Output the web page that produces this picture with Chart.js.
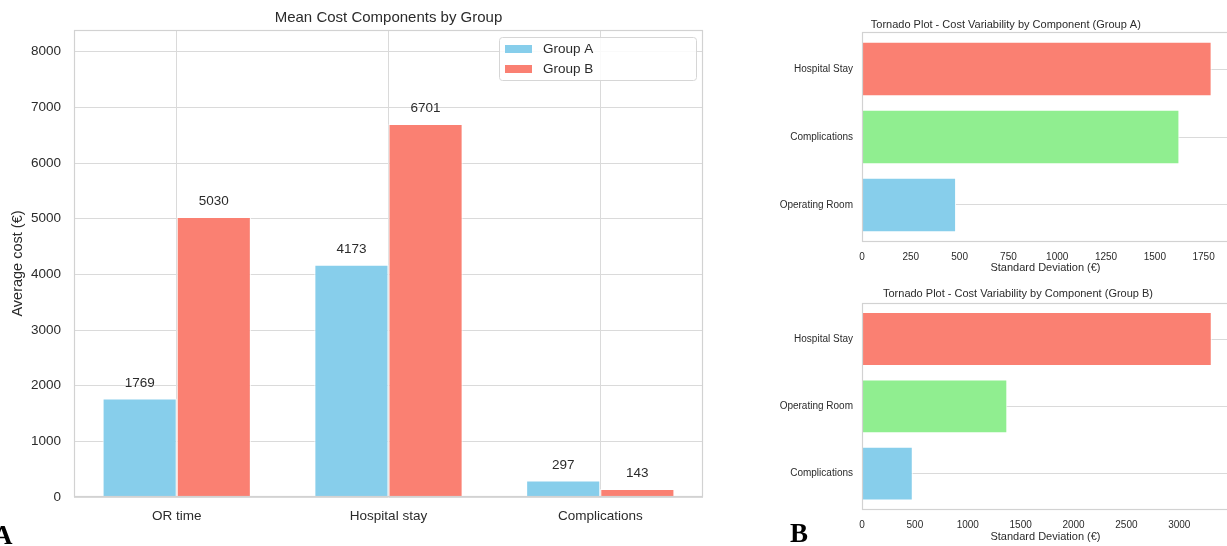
<!DOCTYPE html>
<html>
<head>
<meta charset="utf-8">
<title>Cost components</title>
<script src="https://cdn.jsdelivr.net/npm/chart.js@4.4.1/dist/chart.umd.min.js"></script>
<style>
  html, body { margin: 0; padding: 0; width: 1227px; height: 546px; overflow: hidden; background: #ffffff; }
  canvas { position: absolute; display: block; }
  .tag { position: absolute; font: bold 27px "Liberation Serif", "Times New Roman", serif; line-height: 27px; color: #000; }
</style>
</head>
<body>
<canvas id="meanChart" width="720" height="546" style="left:0;top:0"></canvas>
<canvas id="tornadoA" width="470" height="280" style="left:760px;top:0"></canvas>
<canvas id="tornadoB" width="470" height="266" style="left:760px;top:280px"></canvas>
<div class="tag" style="left:-7px;top:522px">A</div>
<div class="tag" style="left:790px;top:520px">B</div>

<script>
// ---- data ----
const components = ['OR time', 'Hospital stay', 'Complications'];
const groupNames = ['Group A', 'Group B'];
const groupA = [1769, 4173, 297];
const groupB = [5030, 6701, 143];
const costTicks = [0, 1000, 2000, 3000, 4000, 5000, 6000, 7000, 8000];

const tornadoALabels = ['Hospital Stay', 'Complications', 'Operating Room'];
const tornadoAValues = [1791, 1626, 482];
const tornadoATicks = [0, 250, 500, 750, 1000, 1250, 1500, 1750];

const tornadoBLabels = ['Hospital Stay', 'Operating Room', 'Complications'];
const tornadoBValues = [3307, 1374, 480];
const tornadoBTicks = [0, 500, 1000, 1500, 2000, 2500, 3000];

// ---- style ----
const SKY = '#87CEEB';
const SALMON = '#FA8072';
const GREEN = '#90EE90';
const rankColors = [SALMON, GREEN, SKY];
const TEXT = '#2b2b2b';
const GRID = '#dadada';
const FRAME = '#d2d2d2';
const FONT = '"Liberation Sans", Arial, Helvetica, sans-serif';

Chart.defaults.font.family = FONT;
Chart.defaults.color = TEXT;

// box around the plotting area (all four sides)
const frame = {
  id: 'frame',
  afterDatasetsDraw(chart) {
    const { ctx, chartArea: a } = chart;
    ctx.save();
    ctx.strokeStyle = FRAME;
    ctx.lineWidth = 1.2;
    const l = Math.round(a.left) + 0.5, t = Math.round(a.top) + 0.5;
    const r = Math.round(a.right) - 0.5, b = Math.round(a.bottom) - 0.5;
    ctx.strokeRect(l, t, r - l, b - t);
    ctx.restore();
  }
};

// value written above each bar
const valueLabels = {
  id: 'valueLabels',
  afterDatasetsDraw(chart, args, opts) {
    const { ctx } = chart;
    ctx.save();
    ctx.font = `${opts.size}px ${FONT}`;
    ctx.fillStyle = TEXT;
    ctx.textAlign = 'center';
    ctx.textBaseline = 'middle';
    chart.data.datasets.forEach((ds, di) => {
      chart.getDatasetMeta(di).data.forEach((bar, i) => {
        ctx.fillText(String(ds.data[i].y), bar.x, bar.y - opts.offset);
      });
    });
    ctx.restore();
  }
};

// legend drawn inside the plot, upper right
const insetLegend = {
  id: 'insetLegend',
  afterDraw(chart, args, opts) {
    const { ctx, chartArea: a } = chart;
    const right = a.right - opts.inset.right;
    const top = a.top + opts.inset.top;
    const left = right - opts.width;
    ctx.save();
    ctx.beginPath();
    ctx.roundRect(left + 0.5, top + 0.5, opts.width, opts.height, 3);
    ctx.fillStyle = 'rgba(255,255,255,0.85)';
    ctx.fill();
    ctx.strokeStyle = '#d6d6d6';
    ctx.lineWidth = 1;
    ctx.stroke();
    ctx.font = `${opts.size}px ${FONT}`;
    ctx.textBaseline = 'middle';
    ctx.textAlign = 'left';
    chart.data.datasets.forEach((ds, i) => {
      const cy = top + opts.firstRow + i * opts.rowGap;
      ctx.fillStyle = ds.backgroundColor;
      ctx.fillRect(left + 6, cy - 4, 27, 8);
      ctx.fillStyle = TEXT;
      ctx.fillText(ds.label, left + 44, cy);
    });
    ctx.restore();
  }
};

// panel title placed at a set offset from the plot's left edge
const panelTitle = {
  id: 'panelTitle',
  afterDraw(chart, args, opts) {
    const { ctx, chartArea: a } = chart;
    ctx.save();
    ctx.font = `${opts.size}px ${FONT}`;
    ctx.fillStyle = TEXT;
    ctx.textAlign = 'center';
    ctx.textBaseline = 'middle';
    ctx.fillText(opts.text, a.left + opts.dx, opts.y);
    ctx.restore();
  }
};

// ---- panel A: grouped bars ----
const barSeries = [groupA, groupB];
const barColors = [SKY, SALMON];

new Chart(document.getElementById('meanChart'), {
  type: 'bar',
  data: {
    datasets: barSeries.map((series, s) => ({
      label: groupNames[s],
      data: series.map((v, i) => ({ x: i, y: v })),
      backgroundColor: barColors[s],
      borderColor: '#ffffff',
      borderWidth: 1,
      borderSkipped: 'bottom',
      categoryPercentage: 0.7,
      barPercentage: 1.0
    }))
  },
  options: {
    responsive: false,
    animation: false,
    events: [],
    layout: { padding: { left: 0, right: 17, top: 0, bottom: 0 } },
    plugins: {
      legend: { display: false },
      tooltip: { enabled: false },
      title: {
        display: true,
        text: 'Mean Cost Components by Group',
        fullSize: false,
        color: TEXT,
        font: { size: 15, weight: 'normal' },
        padding: { top: 9, bottom: 3 }
      },
      valueLabels: { size: 13.5, offset: 15.5 },
      insetLegend: { inset: { right: 7, top: 7 }, width: 197, height: 43, size: 13.5, firstRow: 12, rowGap: 20 }
    },
    scales: {
      x: {
        type: 'linear',
        min: -0.485,
        max: 2.485,
        offset: false,
        grid: { color: GRID, lineWidth: 1, drawTicks: false, offset: false },
        border: { display: false },
        ticks: { padding: 11, font: { size: 13.5 }, color: TEXT, callback: v => components[v] },
        afterBuildTicks: s => { s.ticks = components.map((_, i) => ({ value: i })); },
        afterFit: s => { s.height = 49; }
      },
      y: {
        min: 0,
        max: 8390,
        grid: { color: GRID, lineWidth: 1, drawTicks: false },
        border: { display: false },
        ticks: { padding: 13, font: { size: 13.5 }, color: TEXT, callback: v => String(v) },
        afterBuildTicks: s => { s.ticks = costTicks.map(v => ({ value: v })); },
        afterFit: s => { s.width = 74; },
        title: { display: true, text: 'Average cost (€)', color: TEXT, font: { size: 14.5 }, padding: { top: 9, bottom: 0 } }
      }
    }
  },
  plugins: [frame, valueLabels, insetLegend]
});

// ---- panel B: two tornado plots ----
function tornado(canvasId, title, labels, values, ticks, xMax, geo) {
  return new Chart(document.getElementById(canvasId), {
    type: 'bar',
    data: {
      datasets: [{
        label: title,
        data: values.map((v, i) => ({ x: v, y: i })),
        backgroundColor: values.map((_, i) => rankColors[i]),
        borderColor: '#ffffff',
        borderWidth: 1,
        borderSkipped: 'left',
        categoryPercentage: 0.8,
        barPercentage: 1.0
      }]
    },
    options: {
      indexAxis: 'y',
      responsive: false,
      animation: false,
      events: [],
      layout: { padding: { left: 0, right: 1, top: geo.top, bottom: 0 } },
      plugins: {
        legend: { display: false },
        tooltip: { enabled: false },
        title: { display: false },
        panelTitle: { text: title, size: 11, dx: geo.titleDx, y: geo.titleY }
      },
      scales: {
        x: {
          type: 'linear',
          min: 0,
          max: xMax,
          grid: { display: false, drawTicks: false },
          border: { display: false },
          ticks: { padding: 9.3, font: { size: 10 }, color: TEXT, callback: v => String(v) },
          afterBuildTicks: s => { s.ticks = ticks.map(v => ({ value: v })); },
          afterFit: s => { s.height = geo.xHeight; },
          title: { display: true, text: 'Standard Deviation (€)', color: TEXT, font: { size: 11 }, padding: { top: 0, bottom: geo.xTitlePad } }
        },
        y: {
          type: 'linear',
          min: -0.54,
          max: labels.length - 1 + 0.54,
          reverse: true,
          offset: false,
          grid: { color: GRID, lineWidth: 1, drawTicks: false, offset: false },
          border: { display: false },
          ticks: { padding: 9, font: { size: 10 }, color: TEXT, callback: v => labels[v] },
          afterBuildTicks: s => { s.ticks = labels.map((_, i) => ({ value: i })); },
          afterFit: s => { s.width = 102; }
        }
      }
    },
    plugins: [frame, panelTitle]
  });
}

tornado('tornadoA', 'Tornado Plot - Cost Variability by Component (Group A)',
  tornadoALabels, tornadoAValues, tornadoATicks, 1880,
  { top: 32.3, titleDx: 143.8, titleY: 25, xHeight: 38.3, xTitlePad: 5 });

tornado('tornadoB', 'Tornado Plot - Cost Variability by Component (Group B)',
  tornadoBLabels, tornadoBValues, tornadoBTicks, 3470,
  { top: 22.7, titleDx: 156, titleY: 13.5, xHeight: 36, xTitlePad: 2 });
</script>
</body>
</html>
